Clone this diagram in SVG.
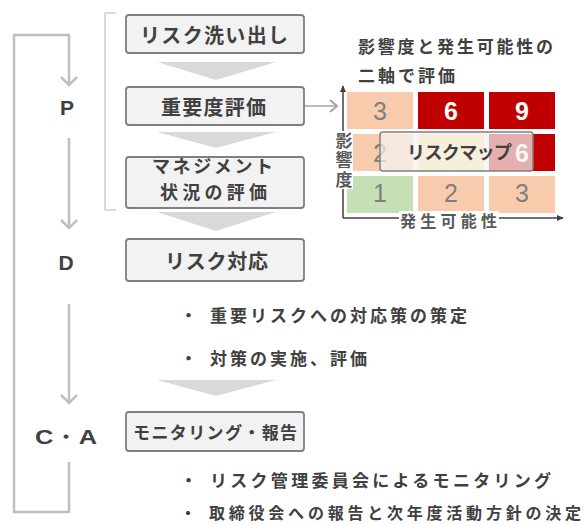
<svg xmlns="http://www.w3.org/2000/svg" width="588" height="524" viewBox="0 0 588 524">
<style>
.bx{fill:#F2F2F2;stroke:#7F7F7F;stroke-width:1.8}
.bt{font-family:"Noto Sans CJK JP","Noto Sans",sans-serif;font-weight:bold;font-size:20px;fill:#404040;dominant-baseline:central}
.lt{font-family:"Liberation Sans","Noto Sans",sans-serif;font-weight:bold;font-size:21px;fill:#404040;dominant-baseline:central;text-anchor:middle}
.bul{font-family:"Noto Sans CJK JP","Noto Sans",sans-serif;font-weight:bold;font-size:17px;fill:#404040;dominant-baseline:central}
.lp{fill:none;stroke:#BFBFBF;stroke-width:2.5}
.chev{fill:#D9D9D9}
.num{font-family:"Liberation Sans","Noto Sans",sans-serif;font-size:25px;dominant-baseline:central;text-anchor:middle}
.g{fill:#7F7F7F}
.w{fill:#FFFFFF;font-weight:bold}
.ax{fill:none;stroke:#404040;stroke-width:1.5}
.axl{font-family:"Noto Sans CJK JP","Noto Sans",sans-serif;font-weight:bold;font-size:17px;fill:#595959}
</style>
<defs>
<marker id="v" viewBox="0 0 20 20" refX="10" refY="10" markerWidth="20" markerHeight="20" markerUnits="userSpaceOnUse" orient="auto">
<path d="M2,2 L10,10 L2,18" fill="none" stroke="#BFBFBF" stroke-width="2.5"/>
</marker>
<marker id="vs" viewBox="0 0 14 14" refX="12" refY="7" markerWidth="14" markerHeight="14" markerUnits="userSpaceOnUse" orient="auto">
<path d="M5,1 L12,7 L5,13" fill="none" stroke="#A6A6A6" stroke-width="2"/>
</marker>
<marker id="ta" viewBox="0 0 10 10" refX="8" refY="5" markerWidth="8" markerHeight="8" markerUnits="userSpaceOnUse" orient="auto">
<path d="M0,1 L9,5 L0,9 Z" fill="#404040"/>
</marker>
</defs>

<g id="connectors">
<path class="lp" d="M69,462 L69,512 L14,512 L14,35 L69,35 L69,85" marker-end="url(#v)"/>
<path class="lp" d="M69,138 L69,228" marker-end="url(#v)"/>
<path class="lp" d="M69,304 L69,403" marker-end="url(#v)"/>
<path d="M304,106 L337,106" fill="none" stroke="#A6A6A6" stroke-width="1.5" marker-end="url(#vs)"/>
<path d="M116,13 L105,13 L105,210 L116,210" fill="none" stroke="#D0D0D0" stroke-width="1.5"/>
<polygon class="chev" points="157,62 276,62 216,80"/>
<polygon class="chev" points="157,132 276,132 216,148"/>
<polygon class="chev" points="157,212 276,212 216,231"/>
<polygon class="chev" points="157,380 276,380 216,396"/>
</g>

<g id="label-P"><text class="lt" x="67" y="107">P</text></g>
<g id="label-D"><text class="lt" x="66" y="262">D</text></g>
<g id="label-CA"><text class="lt" x="66" y="436" textLength="62" lengthAdjust="spacingAndGlyphs">C・A</text></g>

<g id="box-arai">
<rect class="bx" x="126" y="15" width="178" height="38" rx="3"/>
<text class="bt" x="140" y="34" textLength="148" lengthAdjust="spacing">リスク洗い出し</text>
</g>
<g id="box-juyo">
<rect class="bx" x="126" y="87" width="178" height="38" rx="3"/>
<text class="bt" x="161" y="106" textLength="105" lengthAdjust="spacing">重要度評価</text>
</g>
<g id="box-mgmt">
<rect class="bx" x="126" y="157" width="178" height="51" rx="3"/>
<text class="bt" x="152" y="165" style="font-size:18px" textLength="121" lengthAdjust="spacing">マネジメント</text>
<text class="bt" x="160" y="191" style="font-size:18px" textLength="107" lengthAdjust="spacing">状況の評価</text>
</g>
<g id="box-taio">
<rect class="bx" x="126" y="239" width="178" height="42" rx="3"/>
<text class="bt" x="165" y="260" textLength="103" lengthAdjust="spacing">リスク対応</text>
</g>
<g id="box-monitor">
<rect class="bx" x="126" y="412" width="178" height="39" rx="3"/>
<text class="bt" x="133" y="431" style="font-size:17px" textLength="164" lengthAdjust="spacing">モニタリング・報告</text>
</g>

<g id="bullets-D">
<text class="bul" x="180" y="314">・</text>
<text class="bul" x="210" y="314" textLength="257" lengthAdjust="spacing">重要リスクへの対応策の策定</text>
<text class="bul" x="180" y="357">・</text>
<text class="bul" x="210" y="357" textLength="157" lengthAdjust="spacing">対策の実施、評価</text>
</g>
<g id="bullets-CA">
<text class="bul" x="180" y="479">・</text>
<text class="bul" x="210" y="479" textLength="341" lengthAdjust="spacing">リスク管理委員会によるモニタリング</text>
<text class="bul" x="180" y="512" style="font-size:16px">・</text>
<text class="bul" x="209" y="512" style="font-size:16px" textLength="372" lengthAdjust="spacing">取締役会への報告と次年度活動方針の決定</text>
</g>

<g id="riskmap-title">
<text class="bul" x="358" y="45" textLength="195" lengthAdjust="spacing">影響度と発生可能性の</text>
<text class="bul" x="358" y="74" textLength="97" lengthAdjust="spacing">二軸で評価</text>
</g>

<g id="riskmap">
<rect x="347" y="92" width="66" height="37" fill="#F8CBAD"/>
<rect x="418" y="92" width="66" height="37" fill="#C00000"/>
<rect x="489" y="92" width="66" height="37" fill="#C00000"/>
<rect x="347" y="134" width="66" height="37" fill="#F8CBAD"/>
<rect x="418" y="134" width="66" height="37" fill="#FFE699"/>
<rect x="489" y="134" width="66" height="37" fill="#C00000"/>
<rect x="347" y="176" width="66" height="37" fill="#C5E0B4"/>
<rect x="418" y="176" width="66" height="37" fill="#F8CBAD"/>
<rect x="489" y="176" width="66" height="37" fill="#F8CBAD"/>
<text class="num g" x="380" y="111">3</text>
<text class="num w" x="451" y="111">6</text>
<text class="num w" x="522" y="111">9</text>
<text class="num g" x="380" y="153">2</text>
<text class="num w" x="522" y="153">6</text>
<text class="num g" x="380" y="193">1</text>
<text class="num g" x="451" y="193">2</text>
<text class="num g" x="522" y="193">3</text>
<path class="ax" d="M343,218 L343,86" marker-end="url(#ta)"/>
<path class="ax" d="M343,218 L563,218" marker-end="url(#ta)"/>
<rect x="335" y="131" width="18" height="58" fill="#FFFFFF"/>
<text class="axl" x="344" y="132" writing-mode="vertical-rl" textLength="56" lengthAdjust="spacing">影響度</text>
<rect x="399" y="211" width="100" height="15" fill="#FFFFFF"/>
<text class="axl" x="400" y="220" style="font-size:16px" dominant-baseline="central" textLength="97" lengthAdjust="spacing">発生可能性</text>
</g>

<g id="riskmap-label">
<rect x="380" y="132" width="153" height="39" rx="3" fill="#F2F2F2" fill-opacity="0.72" stroke="#7F7F7F" stroke-width="1.5"/>
<text class="bul" x="407" y="151" style="font-size:18px" textLength="105" lengthAdjust="spacing">リスクマップ</text>
</g>
</svg>
